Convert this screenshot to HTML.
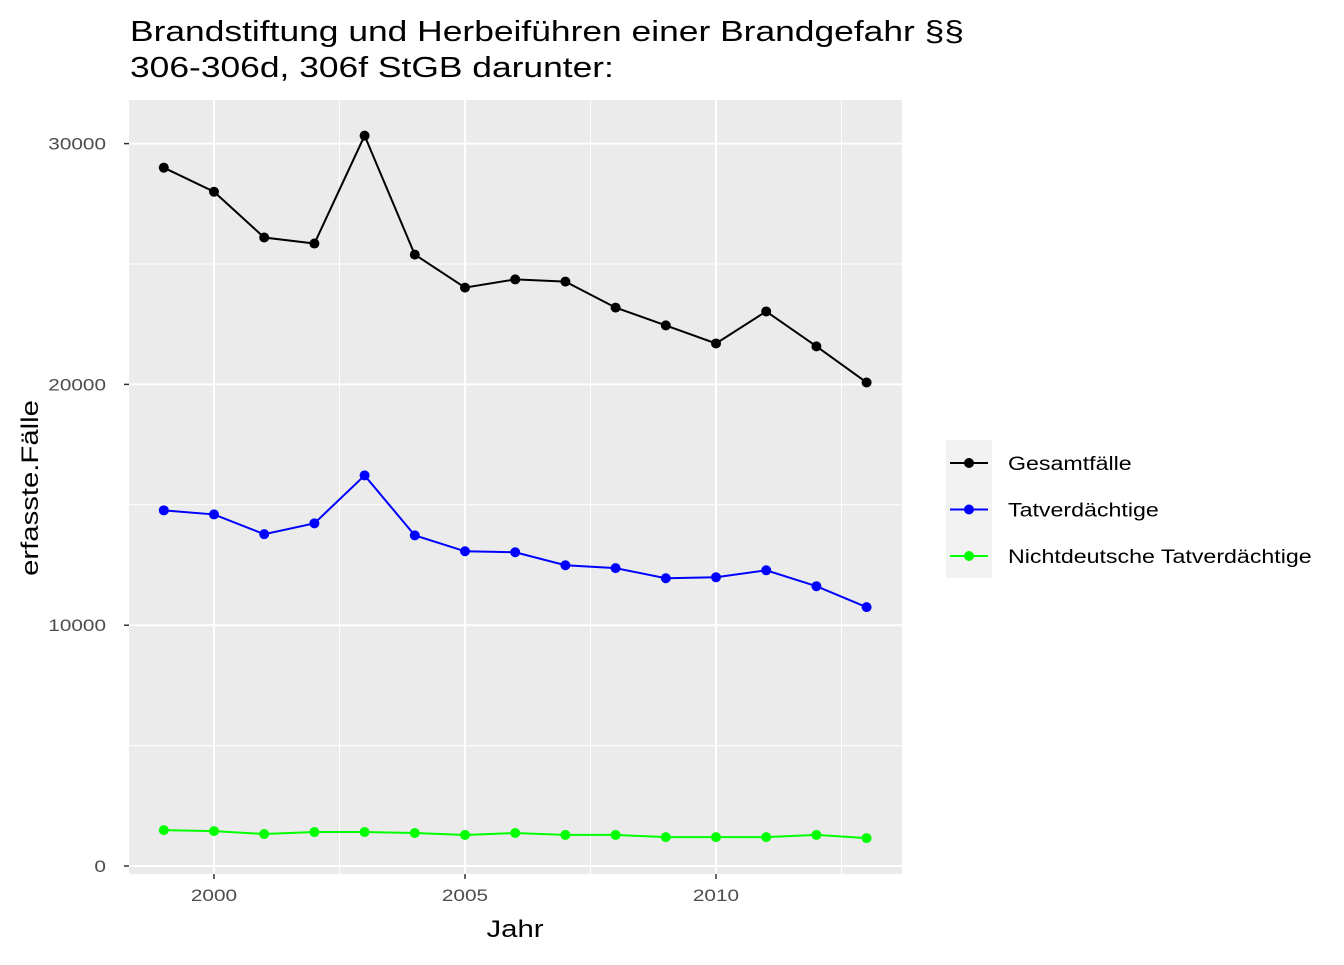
<!DOCTYPE html>
<html><head><meta charset="utf-8"><style>
body{margin:0;background:#fff;}
svg text{font-family:"Liberation Sans",sans-serif;}
</style></head><body>
<svg id="chart" width="1344" height="960" xmlns="http://www.w3.org/2000/svg">
<text x="130" y="41" font-size="29" fill="#000">Brandstiftung und Herbeiführen einer Brandgefahr §§</text>
<text x="130" y="77" font-size="29" fill="#000">306-306d, 306f StGB darunter:</text>
<rect x="129" y="100" width="773" height="774" fill="#ebebeb"/>
<g id="grid"></g>
<g id="series"></g>
<g id="axes"></g>
<text x="515" y="937" font-size="24" text-anchor="middle" fill="#000">Jahr</text>
<text transform="translate(38,488) rotate(-90)" font-size="24" text-anchor="middle" fill="#000">erfasste.Fälle</text>
<g>
<rect x="946" y="440" width="46" height="138" fill="#f2f2f2"/>
<g id="legend"></g>
</g>
</svg>
<script>
const years=[1999,2000,2001,2002,2003,2004,2005,2006,2007,2008,2009,2010,2011,2012,2013];
const gesamt=[29000,28000,26100,25850,30330,25390,24020,24360,24270,23190,22450,21700,23030,21580,20080];
const tatver=[14770,14600,13780,14230,16220,13730,13070,13030,12490,12370,11950,11990,12280,11620,10750];
const nichtdt=[1490,1450,1330,1410,1410,1370,1290,1370,1290,1290,1200,1200,1200,1290,1160];
const seriesNames=["Gesamtfälle","Tatverdächtige","Nichtdeutsche Tatverdächtige"];
const xTicks=[2000,2005,2010];
const yTicks=[0,10000,20000,30000];
const NS="http://www.w3.org/2000/svg";
const xs=v=>214+(v-2000)*50.2;
const ys=v=>866-v*0.02408;
function mk(tag,attrs,parent){const e=document.createElementNS(NS,tag);for(const k in attrs)e.setAttribute(k,attrs[k]);parent.appendChild(e);return e;}
const grid=document.getElementById('grid'),axes=document.getElementById('axes'),ser=document.getElementById('series'),leg=document.getElementById('legend');
for(let i=0;i<yTicks.length-1;i++){const v=(yTicks[i]+yTicks[i+1])/2;const l=mk('line',{x1:129,x2:902,y1:ys(v),y2:ys(v),stroke:'#fff','stroke-width':1},grid);

}
for(let i=0;i<xTicks.length;i++){const v=xTicks[i]+2.5;const l=mk('line',{x1:xs(v),x2:xs(v),y1:100,y2:874,stroke:'#fff','stroke-width':1},grid);

}
yTicks.forEach(v=>{const l=mk('line',{x1:129,x2:902,y1:ys(v),y2:ys(v),stroke:'#fff','stroke-width':2},grid);


const t=mk('line',{x1:124,x2:129,y1:ys(v),y2:ys(v),stroke:'#333','stroke-width':1.5},axes);


const tx=mk('text',{x:106,y:ys(v)+6,'font-size':17,'text-anchor':'end',fill:'#4d4d4d'},axes);tx.textContent=v;

});
xTicks.forEach(v=>{const l=mk('line',{x1:xs(v),x2:xs(v),y1:100,y2:874,stroke:'#fff','stroke-width':2},grid);


const t=mk('line',{x1:xs(v),x2:xs(v),y1:874,y2:879,stroke:'#333','stroke-width':1.5},axes);


const tx=mk('text',{x:xs(v),y:901,'font-size':17,'text-anchor':'middle',fill:'#4d4d4d'},axes);tx.textContent=v;

});
const colors=['#000000','#0000ff','#00ff00'];
[gesamt,tatver,nichtdt].forEach((vals,si)=>{
const g=mk('g',{},ser);


const p=mk('polyline',{points:vals.map((v,i)=>xs(years[i])+','+ys(v)).join(' '),fill:'none',stroke:colors[si],'stroke-width':2},g);


vals.forEach((v,i)=>{const c=mk('circle',{cx:xs(years[i]),cy:ys(v),r:5,fill:colors[si]},g);

});
const ly=463+si*46.5;
const ll=mk('line',{x1:950,x2:988,y1:ly,y2:ly,stroke:colors[si],'stroke-width':2},leg);


const lc=mk('circle',{cx:969,cy:ly,r:5,fill:colors[si]},leg);


const lt=mk('text',{x:1008,y:ly+7,'font-size':19,fill:'#000'},leg);lt.textContent=seriesNames[si];


});
document.querySelectorAll('svg text').forEach(t=>{
const w=t.getComputedTextLength();
t.setAttribute('textLength',(w*1.22).toFixed(1));
t.setAttribute('lengthAdjust','spacingAndGlyphs');
});
</script>
</body></html>
